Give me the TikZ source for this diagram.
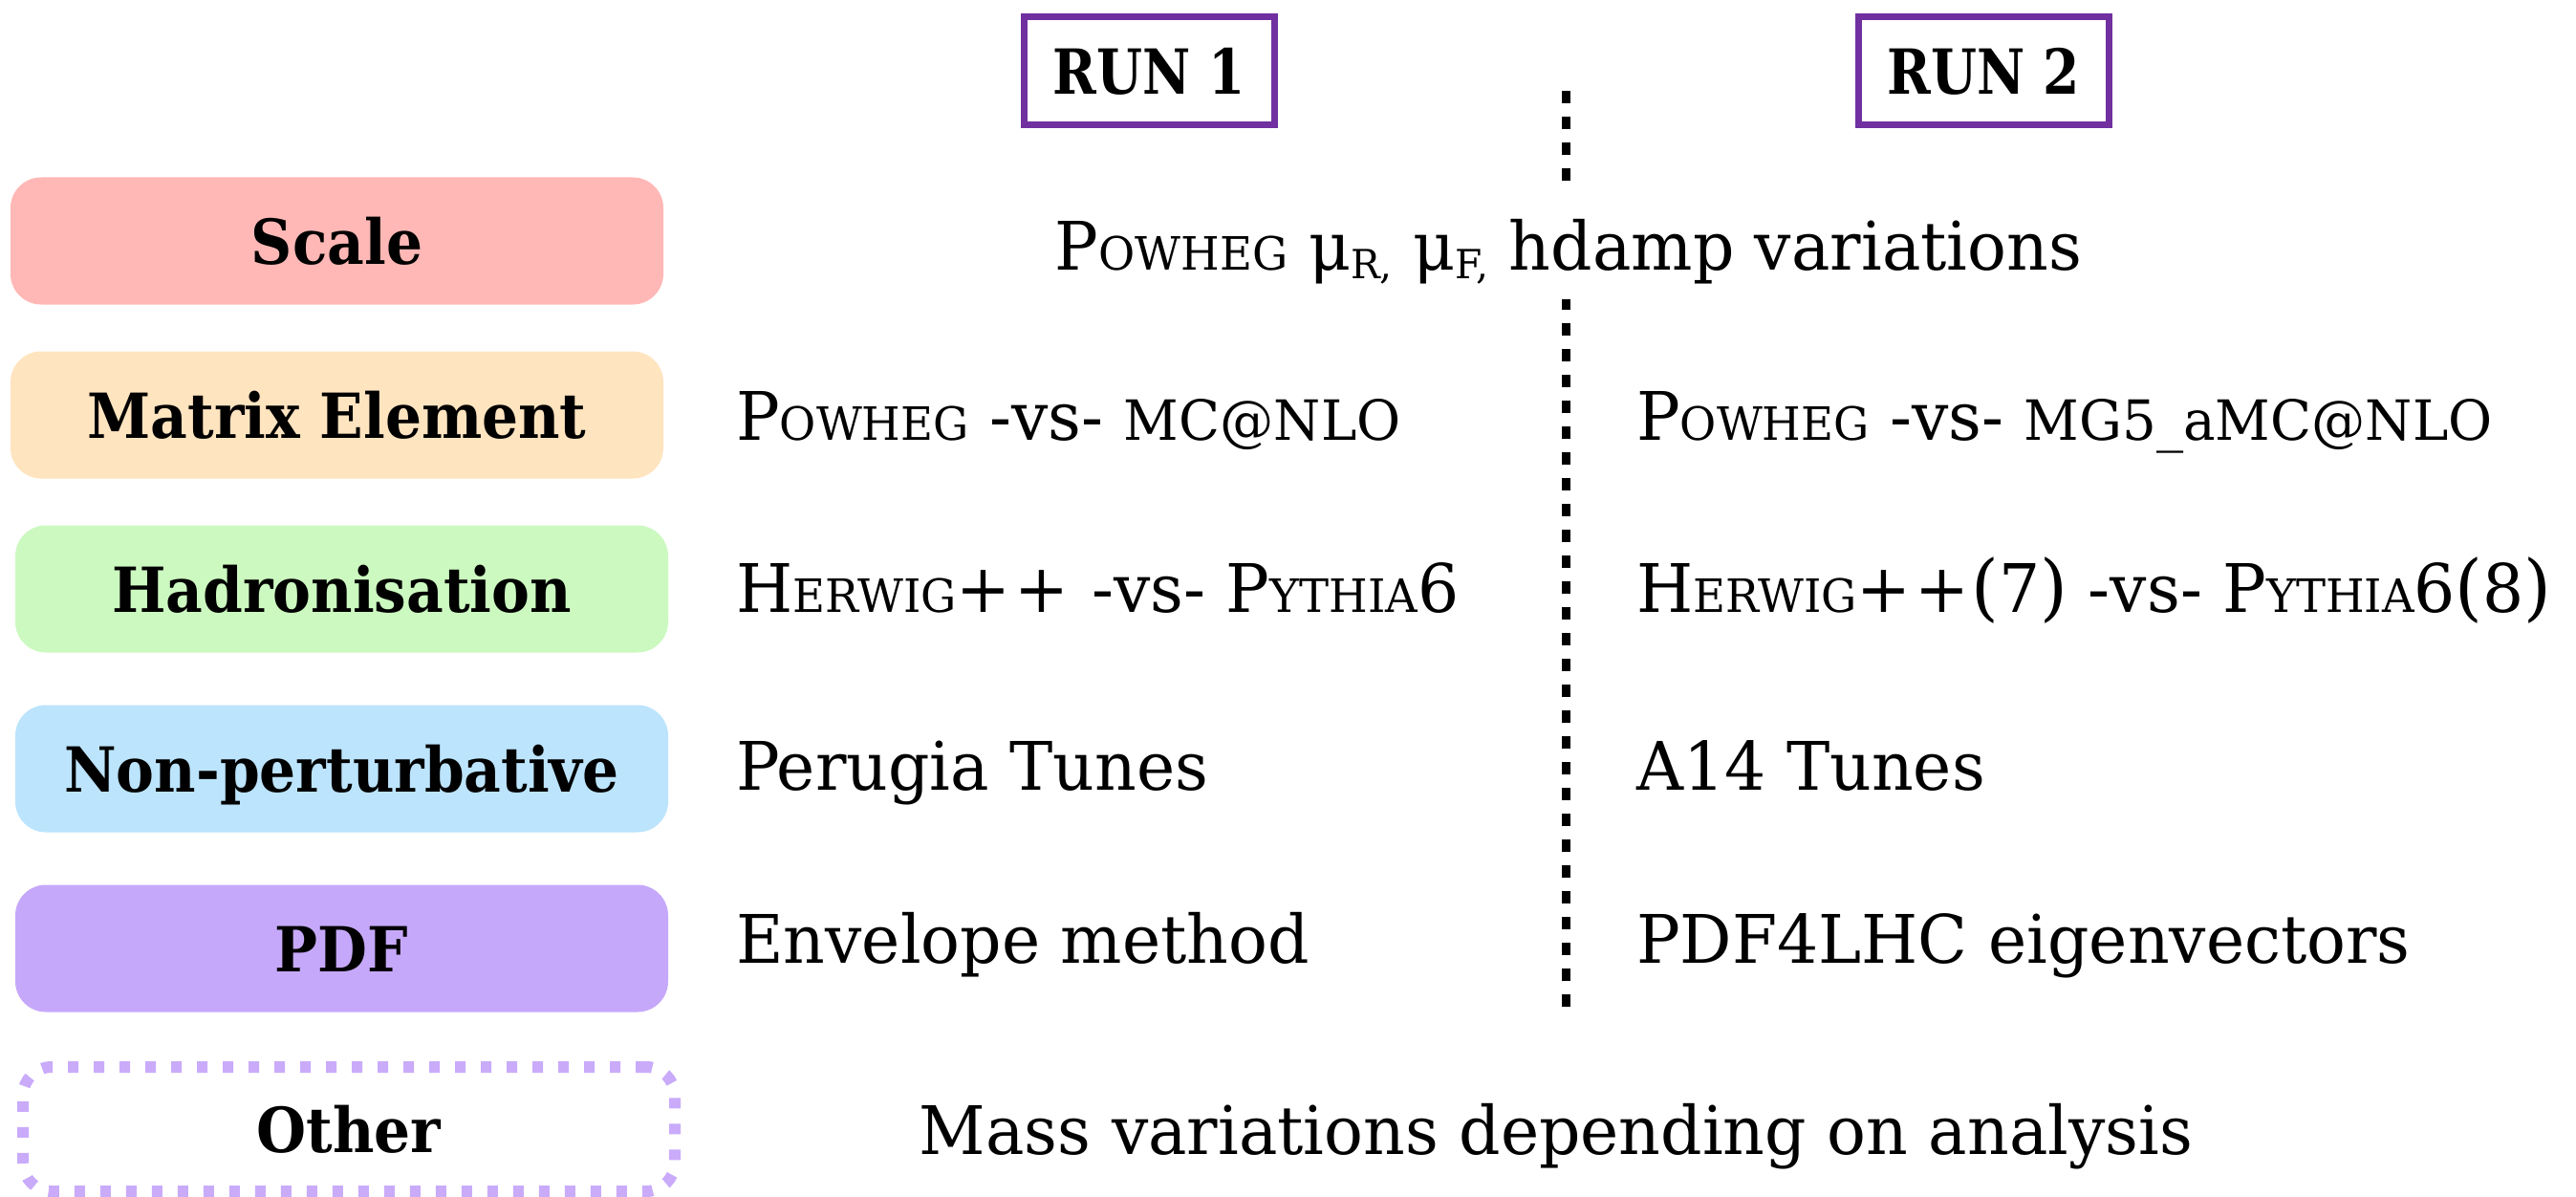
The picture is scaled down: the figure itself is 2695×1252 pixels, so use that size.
\documentclass[tikz,border=0pt]{standalone}
\usepackage{fontspec}
\setmainfont{DejaVu Serif}[FakeStretch=0.97, BoldFeatures={FakeStretch=0.92}]
\definecolor{runpurple}{HTML}{7030A0}
\definecolor{scalecol}{HTML}{FFB8B6}
\definecolor{mecol}{HTML}{FFE4C0}
\definecolor{hadcol}{HTML}{CCF9C0}
\definecolor{npcol}{HTML}{BCE4FC}
\definecolor{pdfcol}{HTML}{C6A8FA}
\definecolor{othercol}{HTML}{C9ABFA}
\newcommand\txtsize{\fontsize{70}{84}\selectfont}
\newcommand\lblsize{\fontsize{65}{76}\selectfont\bfseries}
\newcommand\scsize{\fontsize{48}{52}\selectfont}
\newcommand\mcsize{\fontsize{58}{62}\selectfont}
\newcommand\subsize{\fontsize{42}{46}\selectfont}
\newcommand\parsize{\fontsize{76}{84}\selectfont}
\newcommand\SC[2]{#1{\scsize #2}}
\newcommand\PP{+\kern4pt+\kern2pt}
\newcommand\MUsub[1]{μ\raisebox{-9pt}{\subsize #1}}
\newcommand\runlbl[1]{\scalebox{0.92}[1]{#1}}
\begin{document}
\begin{tikzpicture}[x=1pt,y=-1pt,
  catbox/.style={rounded corners=32pt, minimum width=683pt, minimum height=133pt,
    inner sep=0pt, text height=48pt, text depth=0pt, font=\lblsize},
  runbox/.style={draw=runpurple, line width=7pt, minimum width=262pt, minimum height=113pt,
    inner sep=0pt, text height=50pt, text depth=0pt, font=\lblsize},
  txt/.style={anchor=base west, inner sep=0pt, font=\txtsize},
  ctxt/.style={anchor=base, inner sep=0pt, font=\txtsize}]
\useasboundingbox (0,0) rectangle (2695,1252);
% divider
\coordinate (dtop) at (1638,95);
\coordinate (dbot) at (1638,1066);
\draw[line width=9pt, dash pattern=on 13pt off 14pt] (dtop) -- (dbot);
% run headers
\node[runbox] (run1) at (1202.5,74) {\runlbl{RUN 1}};
\node[runbox] (run2) at (2075.5,74) {\runlbl{RUN 2}};
% category boxes
\node[catbox, fill=scalecol] (scale) at (352.5,252) {Scale};
\node[catbox, fill=mecol] (me) at (352.5,434) {Matrix Element};
\node[catbox, fill=hadcol] (had) at (357.5,616) {Hadronisation};
\node[catbox, fill=npcol] (np) at (357.5,804) {Non-perturbative};
\node[catbox, fill=pdfcol] (pdf) at (357.5,992) {PDF};
\node[catbox, draw=othercol, line width=12pt, dash pattern=on 11pt off 16pt,
  rounded corners=30pt, minimum width=682pt, minimum height=130pt] (other) at (365,1181) {Other};
% scale row
\node[ctxt, fill=white, text height=79pt, text depth=31pt] (scaletxt) at (1641,282)
  {\SC{P}{OWHEG} \MUsub{R,} \MUsub{F,}\ hdamp variations};
% run 1 column
\node[txt] (me1) at (770,460) {\SC{P}{OWHEG} -vs- {\mcsize MC@NLO}};
\node[txt] (had1) at (770,640) {\SC{H}{ERWIG}\PP\ -vs- \SC{P}{YTHIA}6};
\node[txt] (np1) at (770,826) {Perugia Tunes};
\node[txt] (pdf1) at (770,1007) {Envelope method};
% run 2 column
\node[txt] (me2) at (1712,460) {\SC{P}{OWHEG} -vs- {\mcsize MG5\_aMC@NLO}};
\node[txt] (had2) at (1712,640) {\SC{H}{ERWIG}\PP{\parsize(}7{\parsize)} -vs- \SC{P}{YTHIA}6{\parsize(}8{\parsize)}};
\node[txt] (np2) at (1712,826) {A14 Tunes};
\node[txt] (pdf2) at (1712,1007) {PDF4LHC eigenvectors};
% other row
\node[ctxt] (othertxt) at (1628,1207) {Mass variations depending on analysis};
\end{tikzpicture}
\end{document}
